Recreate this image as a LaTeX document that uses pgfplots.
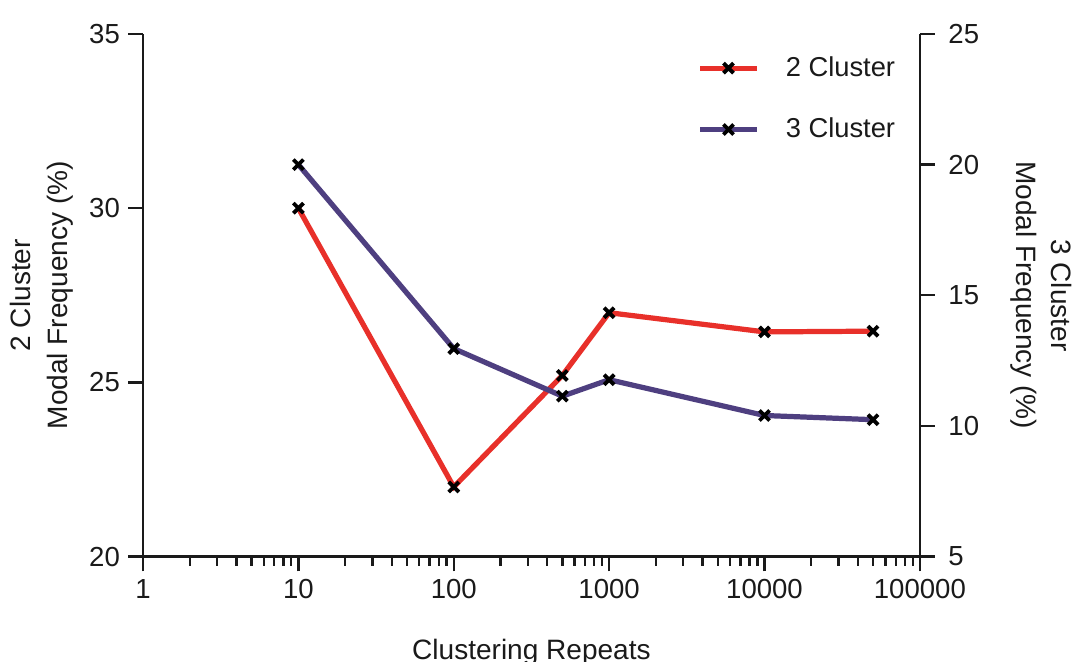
\documentclass[border=0pt]{standalone}
\usepackage{fontspec}
\setmainfont{Liberation Sans}
\usepackage{pgfplots}
\pgfplotsset{compat=1.18}
\usetikzlibrary{calc}
\definecolor{clred}{HTML}{E8302A}
\definecolor{clblue}{HTML}{4E3F80}
\definecolor{axisgray}{HTML}{1A1A1A}

\pgfplotsset{
  /pgf/number format/assume math mode=true,
  every axis/.append style={
    width=327pt, height=220pt, scale only axis,
    major tick length=6.2pt, minor tick length=3.8pt,
    tick style={axisgray, line width=1pt},
    tick label style={font=\fontsize{11.6}{13}\selectfont, text=axisgray},
  },
}

\begin{document}
\begin{tikzpicture}
% left axis: 2 cluster
\begin{axis}[name=ax1,
  xmode=log, xmin=1, xmax=100000,
  axis x line=bottom, axis y line=left,
  axis line style={-, axisgray, line width=1pt},
  x axis line style={-}, y axis line style={-},
  tick align=outside,
  ymin=20, ymax=35, ytick={20,25,30,35},
  xtick={1,10,100,1000,10000,100000},
  xticklabels={1,10,100,1000,10000,100000},
  minor xtick={2,3,4,5,6,7,8,9,20,30,40,50,60,70,80,90,
    200,300,400,500,600,700,800,900,2000,3000,4000,5000,6000,7000,8000,9000,
    20000,30000,40000,50000,60000,70000,80000,90000},
  xlabel={Clustering Repeats},
  ylabel={2 Cluster\\Modal Frequency (\%)},
  every axis x label/.style={at={(axis description cs:0.5,0)}, anchor=base, yshift=-43.3pt,
    font=\fontsize{11.8}{15.4}\selectfont, text=axisgray},
  every axis y label/.style={at={(axis description cs:0,0.5)}, xshift=-42.7pt, rotate=90, anchor=center,
    align=center, font=\fontsize{11.8}{15.4}\selectfont, text=axisgray},
]
\addplot[clred, line width=2.2pt, mark=x, mark size=3pt, mark options={black, line width=1.6pt}]
  coordinates {(10,30.0) (100,22.0) (500,25.2) (1000,27.0) (10000,26.45) (50000,26.47)};
\end{axis}
% right axis: 3 cluster
\begin{axis}[
  xmode=log, xmin=1, xmax=100000,
  axis x line=none, axis y line=right,
  axis line style={-, axisgray, line width=1pt},
  y axis line style={-},
  tick align=outside,
  ymin=5, ymax=25, ytick={5,10,15,20,25},
  yticklabel style={xshift=2.3pt},
  ylabel={3 Cluster\\Modal Frequency (\%)},
  every axis y label/.style={at={(axis description cs:1,0.5)}, xshift=51.2pt, rotate=-90, anchor=center,
    align=center, font=\fontsize{11.8}{14.9}\selectfont, text=axisgray},
  legend style={at={(axis description cs:0.713,0.967)}, anchor=north west,
    draw=none, fill=none, inner sep=0pt, row sep=12pt, column sep=9pt,
    font=\fontsize{11.5}{13}\selectfont, text=axisgray},
  legend cell align=left,
  legend image code/.code={%
    \draw[#1, mark=none] (0pt,0pt) -- (24pt,0pt);
    \draw[#1, only marks] plot coordinates {(12pt,0pt)};},
]
\addlegendimage{clred, line width=2.2pt, mark=x, mark size=3pt, mark options={black, line width=1.6pt}}
\addlegendentry{2 Cluster}
\addplot[clblue, line width=2.2pt, mark=x, mark size=3pt, mark options={black, line width=1.6pt}]
  coordinates {(10,20.0) (100,12.96) (500,11.14) (1000,11.77) (10000,10.40) (50000,10.24)};
\addlegendentry{3 Cluster}
\end{axis}
\pgfresetboundingbox
\path[use as bounding box] ($(ax1.south west)+(-60.2pt,-44.2pt)$) rectangle ($(ax1.north east)+(65.3pt,14.3pt)$);
\end{tikzpicture}
\end{document}
